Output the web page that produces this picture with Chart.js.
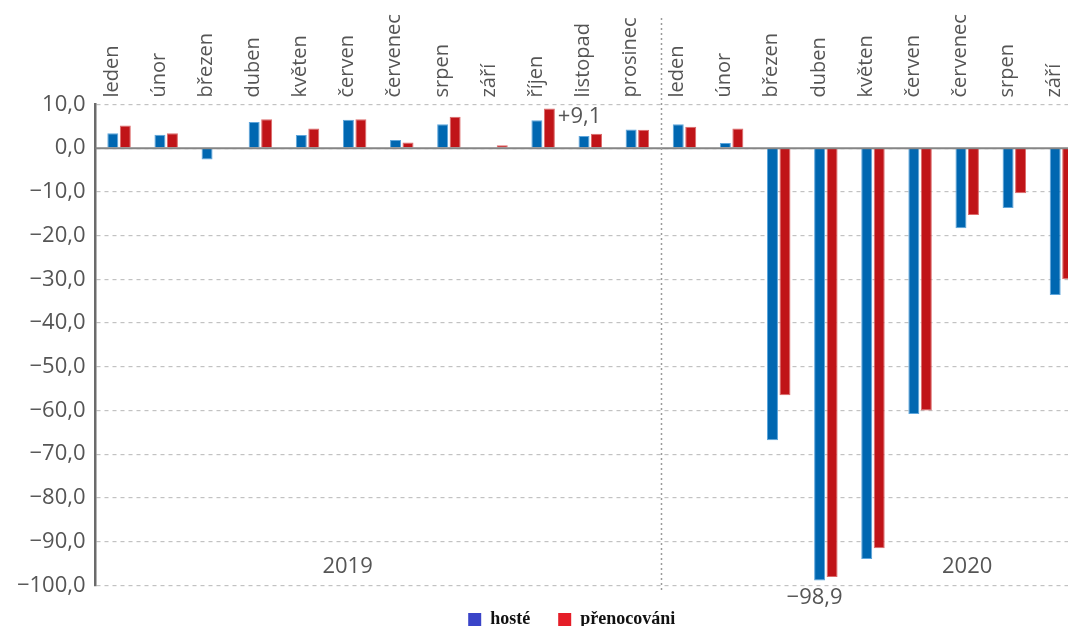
<!DOCTYPE html>
<html><head><meta charset="utf-8">
<script src="https://cdn.jsdelivr.net/npm/chart.js@4.4.1/dist/chart.umd.min.js"></script>
<style>
html,body{margin:0;padding:0;overflow:hidden;background:#fff;width:1068px;height:626px;}
#wrap{position:absolute;left:0;top:0;width:1085px;height:626px;}
</style></head><body>
<div id="wrap"><canvas id="c"></canvas></div>
<script>
const months = ['leden','únor','březen','duben','květen','červen','červenec','srpen','září','říjen','listopad','prosinec',
                'leden','únor','březen','duben','květen','červen','červenec','srpen','září'];
const guests = [3.4, 3.1, -2.6, 6.0, 3.0, 6.5, 1.9, 5.5, 0, 6.4, 2.8, 4.3,
                5.5, 1.2, -66.8, -98.9, -94.0, -60.8, -18.3, -13.7, -33.6];
const nights = [5.2, 3.4, 0, 6.6, 4.5, 6.6, 1.3, 7.2, 0.7, 9.1, 3.3, 4.2,
                4.9, 4.5, -56.5, -98.1, -91.5, -60.0, -15.3, -10.3, -30.0];
const seriesNames = ['hosté', 'přenocováni'];
const years = ['2019', '2020'];
const yearPos = [4.85, 18.0];
const yMin = -100, yMax = 10, yStep = 10;

const fmt = v => (v < 0 ? '\u2212' : '') + Math.abs(v).toFixed(1).replace('.', ',');

const barColors = ['#0067b1', '#c01418'];
const barEdges = ['#5ea6dc', '#dc6a6a'];
const legendColors = ['#3a44c8', '#e51e28'];
const textGray = '#555555';
const legendPad = 28, legendFont = 18, legendBox = 13;

const overlay = {
  id: 'overlay',
  beforeDraw(chart) {
    const lg = chart.legend;
    if (lg) {
      const d = 571.7 - (lg.left + lg.right) / 2;
      lg.left += d; lg.right += d;
      lg.top = 613 - legendPad - (legendFont - legendBox) / 2;
      lg.bottom = 626;
    }
  },
  afterDatasetsDraw(chart) {
    const {ctx, chartArea: a, scales: {y}} = chart;
    ctx.save();
    ctx.strokeStyle = '#858585'; ctx.lineWidth = 2; ctx.setLineDash([]);
    const y0 = y.getPixelForValue(0);
    ctx.beginPath(); ctx.moveTo(a.left, y0); ctx.lineTo(a.right, y0); ctx.stroke();
    ctx.restore();
  },
  afterDraw(chart) {
    const {ctx, scales: {x, y}} = chart;
    ctx.save();
    const xs = Math.round(x.getPixelForValue(11.5)) + 0.5;
    ctx.strokeStyle = '#9a9a9a'; ctx.lineWidth = 1.5; ctx.setLineDash([2, 3]);
    ctx.beginPath(); ctx.moveTo(xs, 18); ctx.lineTo(xs, 592); ctx.stroke();
    ctx.setLineDash([]);
    ctx.fillStyle = textGray;
    ctx.font = "22px 'Open Sans', sans-serif";
    ctx.textAlign = 'center'; ctx.textBaseline = 'middle';
    years.forEach((t, i) => ctx.fillText(t, x.getPixelForValue(yearPos[i]), y.getPixelForValue(-95.7)));
    const m1 = chart.getDatasetMeta(1).data[9];
    ctx.textAlign = 'left';
    ctx.fillText('+' + fmt(nights[9]), m1.x + m1.width / 2 + 3, y.getPixelForValue(7.2));
    const m0 = chart.getDatasetMeta(0).data[15];
    ctx.textAlign = 'center';
    ctx.fillText(fmt(guests[15]), m0.x - 5, y.getPixelForValue(guests[15]) + 17);
    ctx.restore();
  }
};

new Chart(document.getElementById('c'), {
  type: 'bar',
  data: {
    labels: months,
    datasets: [
      {label: seriesNames[0], data: guests, backgroundColor: barColors[0], borderColor: barEdges[0], borderWidth: 1,
       categoryPercentage: 0.53, barPercentage: 0.88},
      {label: seriesNames[1], data: nights, backgroundColor: barColors[1], borderColor: barEdges[1], borderWidth: 1,
       categoryPercentage: 0.53, barPercentage: 0.88}
    ]
  },
  options: {
    responsive: true,
    maintainAspectRatio: false,
    animation: false,
    layout: {padding: 0},
    scales: {
      x: {
        position: 'top',
        offset: true,
        grid: {display: false, drawTicks: false},
        border: {display: false},
        ticks: {minRotation: 90, maxRotation: 90, autoSkip: false, padding: 7, labelOffset: 17, color: textGray,
                font: {family: "'Open Sans', sans-serif", size: 20}},
        afterFit(s) { s.height = 104.5; }
      },
      y: {
        min: yMin, max: yMax,
        ticks: {stepSize: yStep, padding: 10, color: textGray,
                font: {family: "'Open Sans', sans-serif", size: 22},
                callback: v => fmt(v)},
        grid: {color: '#c2c2c2', lineWidth: 1.2, drawTicks: false},
        border: {display: true, color: '#6b6b6b', width: 2.5, dash: [4, 4]},
        afterFit(s) { s.width = 95.5; }
      }
    },
    plugins: {
      tooltip: {enabled: false},
      legend: {
        position: 'bottom',
        maxHeight: 40.7,
        labels: {
          font: {family: "'Liberation Serif', serif", size: legendFont, weight: 'bold'},
          color: '#111111',
          boxWidth: legendBox, boxHeight: legendBox,
          padding: legendPad,
          generateLabels(chart) {
            const items = Chart.defaults.plugins.legend.labels.generateLabels(chart);
            items.forEach((it, i) => { it.fillStyle = legendColors[i]; it.strokeStyle = legendColors[i]; it.lineWidth = 0; });
            return items;
          }
        }
      }
    }
  },
  plugins: [overlay]
});
</script>
</body></html>
